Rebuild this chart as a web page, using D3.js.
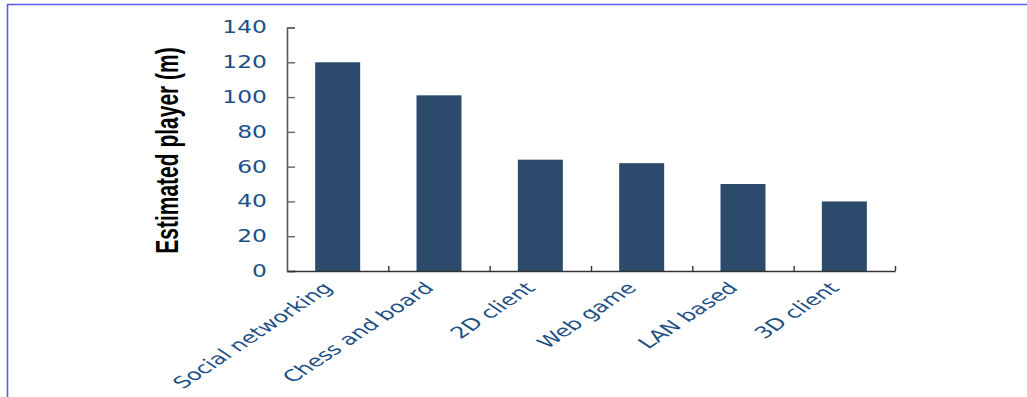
<!DOCTYPE html>
<html>
<head>
<meta charset="utf-8">
<script src="https://cdn.jsdelivr.net/npm/d3@7"></script>
<style>
  html, body { margin: 0; padding: 0; background: #ffffff; }
  svg { display: block; }
</style>
</head>
<body>
<svg id="chart" width="1027" height="397"></svg>
<script>
// Game categories and estimated player counts (millions)
const categories = ["Social networking", "Chess and board", "2D client", "Web game", "LAN based", "3D client"];
const players = [120, 101, 64, 62, 50, 40];
const yTicks = [0, 20, 40, 60, 80, 100, 120, 140];
const yTitle = "Estimated player (m)";

const svg = d3.select("#chart");
const W = 1027, H = 397;
const stretch = 1.5;           // wide text rendering used across the chart
const labelColor = "#1d4f86";
const barColor = "#2b4a6c";

// frame
svg.append("path")
  .attr("d", `M7.5,${H} L7.5,4.5 L${W},4.5`)
  .attr("fill", "none")
  .attr("stroke", "#5a5af2")
  .attr("stroke-width", 1.6);

const plot = { left: 287, right: 895, top: 27.5, bottom: 271 };

const x = d3.scaleBand()
  .domain(categories)
  .range([plot.left, plot.right])
  .paddingInner(0.556)
  .paddingOuter(0.278);

const y = d3.scaleLinear()
  .domain([0, 140])
  .range([plot.bottom, plot.top]);

// bars
svg.append("g")
  .selectAll("rect")
  .data(categories)
  .join("rect")
  .attr("x", d => x(d))
  .attr("width", x.bandwidth())
  .attr("y", (d, i) => y(players[i]))
  .attr("height", (d, i) => y(0) - y(players[i]))
  .attr("fill", barColor);

// y axis (ticks pointing inward)
const yAxis = svg.append("g")
  .attr("transform", `translate(${plot.left},0)`)
  .call(d3.axisRight(y).tickValues(yTicks).tickSize(8).tickFormat(""));
yAxis.select(".domain").attr("stroke", "#555").attr("stroke-width", 1.6);
yAxis.selectAll(".tick line").attr("stroke", "#666").attr("stroke-width", 1.4);

// y tick labels
svg.append("g")
  .selectAll("text")
  .data(yTicks)
  .join("text")
  .attr("transform", d => `translate(267,${y(d)}) scale(1.36,1)`)
  .attr("text-anchor", "end")
  .attr("dominant-baseline", "central")
  .attr("font-family", "DejaVu Sans, Verdana, sans-serif")
  .attr("font-size", 17.2)
  .attr("fill", labelColor)
  .text(d => d);

// x axis with ticks at category boundaries
const step = x.step();
const boundaries = categories.map(c => x(c) + x.bandwidth() + (step - x.bandwidth()) / 2);
const xAxis = svg.append("g")
  .attr("transform", `translate(0,${plot.bottom})`)
  .call(d3.axisTop(d3.scaleLinear().domain([plot.left, plot.right]).range([plot.left, plot.right]))
    .tickValues(boundaries).tickSize(5).tickSizeOuter(0).tickFormat(""));
xAxis.select(".domain").attr("stroke", "#333").attr("stroke-width", 1.6);
xAxis.selectAll(".tick line").attr("stroke", "#333").attr("stroke-width", 1.4);

// rotated category labels
svg.append("g")
  .selectAll("text")
  .data(categories)
  .join("text")
  .attr("transform", d => `translate(${x(d) + x.bandwidth() / 2 - 4},${plot.bottom + 18}) scale(${stretch},1) rotate(-45)`)
  .attr("text-anchor", "end")
  .attr("font-family", "DejaVu Sans, Verdana, sans-serif")
  .attr("font-size", 16)
  .attr("fill", labelColor)
  .text(d => d);

// y axis title
svg.append("text")
  .attr("transform", `translate(177.5,150.5) scale(${stretch},1) rotate(-90)`)
  .attr("text-anchor", "middle")
  .attr("font-family", "Liberation Sans, Arial, sans-serif")
  .attr("font-weight", "bold")
  .attr("font-size", 21)
  .attr("fill", "#000")
  .text(yTitle);
</script>
</body>
</html>
